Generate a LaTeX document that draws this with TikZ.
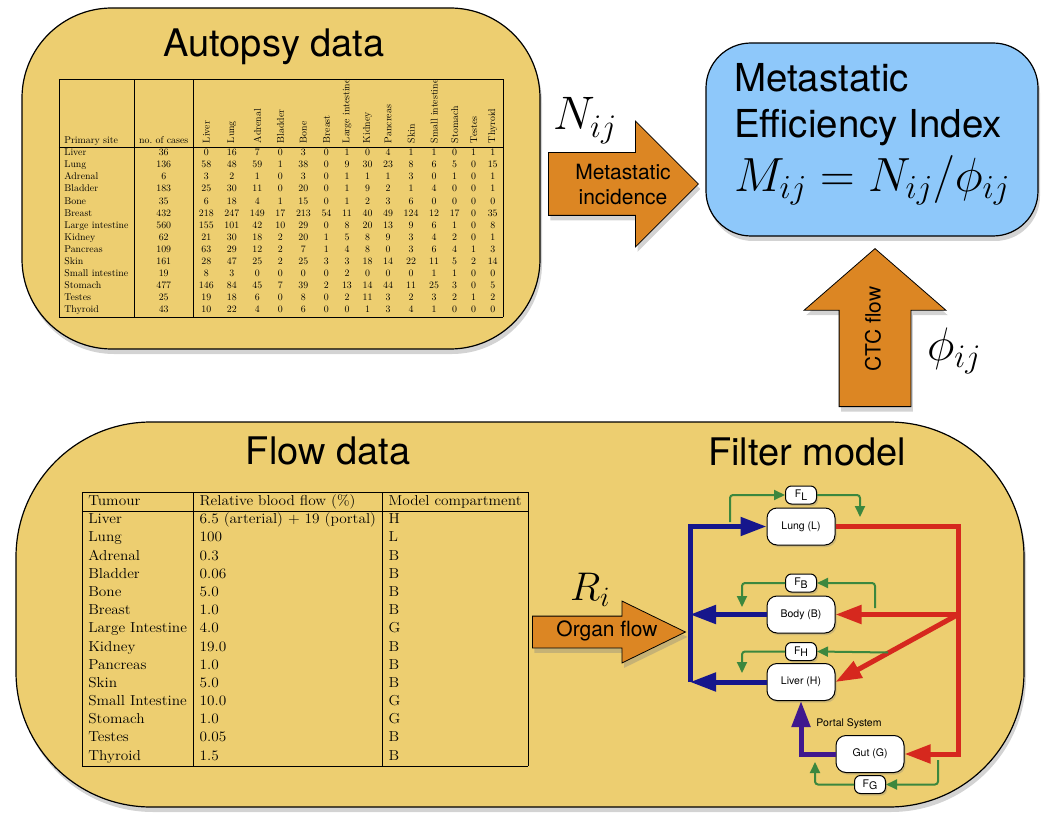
\documentclass[tikz,border=0pt]{standalone}
\usepackage{fix-cm}
\usepackage{fontspec}
\usepackage{graphicx}
\newfontfamily\helv{TeX Gyre Heros}
\usetikzlibrary{shapes,arrows.meta,positioning,shadows}

\definecolor{gold}{RGB}{237,206,112}
\definecolor{sky}{RGB}{142,200,250}
\definecolor{amber}{RGB}{220,134,35}
\definecolor{navy}{RGB}{22,22,140}
\definecolor{indigo}{RGB}{64,24,142}
\definecolor{bloodred}{RGB}{214,40,30}
\definecolor{leaf}{RGB}{60,135,62}

\newcommand{\vcol}[1]{\rotatebox{90}{#1}}
\newcommand{\fsub}[1]{F\raisebox{-.45ex}{#1}}

\begin{document}
\begin{tikzpicture}[%
    x=1pt, y=-1pt,              % measured in points, top down
    >={Triangle[length=26pt,width=18pt]}, % heavy heads for the blood flow
    ]
\useasboundingbox (0,0) rectangle (1050,829);
% -------------------------------------------------
% Box, arrow and line styles
\tikzset{
  shadowed/.style={drop shadow={opacity=.35, shadow xshift=2pt, shadow yshift=-5pt}},
  panel/.style={draw, line width=1.2pt, fill=gold, shadowed},
  title/.style={font=\helv\fontsize{38}{40}\selectfont, anchor=base},
  bigarrow/.style={single arrow, draw, line width=.8pt, fill=amber, shadowed, anchor=tail},
  tag/.style={font=\helv\fontsize{21}{25}\selectfont, align=center, inner sep=0pt},
  big/.style={font=\fontsize{47}{50}\selectfont, inner sep=0pt, anchor=base west},
  organ/.style={draw, fill=white, rounded corners=10pt, line width=1pt,
    minimum width=68pt, minimum height=37pt, inner sep=0pt,
    font=\helv\fontsize{10.5}{12}\selectfont,
    drop shadow={opacity=.3, shadow xshift=1.5pt, shadow yshift=-2pt}},
  fnode/.style={organ, rounded corners=6pt, minimum width=31pt, minimum height=18pt},
  % Connector line styles for the filter model
  blood/.style={->, line width=5pt},
  venous/.style={blood, draw=navy},
  portal/.style={blood, draw=indigo},
  arterial/.style={blood, draw=bloodred},
  filter/.style={-{Triangle[length=11pt,width=10pt]}, draw=leaf, line width=2pt, rounded corners=3pt},
}
% -------------------------------------------------
% The panels
\node [panel, rounded corners=90pt, minimum width=518pt, minimum height=341pt] (aut) at (281,178.5) {};
\node [panel, rounded corners=135pt, minimum width=1008pt, minimum height=385pt] (flw) at (520,614.5) {};
\node [panel, fill=sky, rounded corners=45pt, minimum width=332pt, minimum height=193pt,
  align=left, font=\helv\fontsize{38.5}{46}\selectfont] (mei) at (872,139.5)
  {Metastatic\\Efficiency Index\\[8pt]{\fontsize{48}{50}\selectfont$M_{ij}=N_{ij}/\phi_{ij}$\rule[-25pt]{0pt}{1pt}}};

\node [title] (ta) at (274,57) {Autopsy data};
\node [title] (tf) at (328,464) {Flow data};
\node [title] (tm) at (807,465) {Filter model};

% -------------------------------------------------
% The two tables
\node [inner sep=0pt] (ta1) at (281,198) {\resizebox*{444pt}{238pt}{%
  \fontsize{9.8}{12.1}\selectfont\setlength{\tabcolsep}{5.3pt}%
  \begin{tabular}{|l|c|*{14}{c}|}
  \hline
  Primary site & no.\ of cases & \vcol{Liver} & \vcol{Lung} & \vcol{Adrenal} & \vcol{Bladder} & \vcol{Bone} & \vcol{Breast} & \vcol{Large intestine} & \vcol{Kidney} & \vcol{Pancreas} & \vcol{Skin} & \vcol{Small intestine} & \vcol{Stomach} & \vcol{Testes} & \vcol{Thyroid} \\
  \hline
  Liver & 36 & 0 & 16 & 7 & 0 & 3 & 0 & 1 & 0 & 4 & 1 & 1 & 0 & 1 & 1 \\
  Lung & 136 & 58 & 48 & 59 & 1 & 38 & 0 & 9 & 30 & 23 & 8 & 6 & 5 & 0 & 15 \\
  Adrenal & 6 & 3 & 2 & 1 & 0 & 3 & 0 & 1 & 1 & 1 & 3 & 0 & 1 & 0 & 1 \\
  Bladder & 183 & 25 & 30 & 11 & 0 & 20 & 0 & 1 & 9 & 2 & 1 & 4 & 0 & 0 & 1 \\
  Bone & 35 & 6 & 18 & 4 & 1 & 15 & 0 & 1 & 2 & 3 & 6 & 0 & 0 & 0 & 0 \\
  Breast & 432 & 218 & 247 & 149 & 17 & 213 & 54 & 11 & 40 & 49 & 124 & 12 & 17 & 0 & 35 \\
  Large intestine & 560 & 155 & 101 & 42 & 10 & 29 & 0 & 8 & 20 & 13 & 9 & 6 & 1 & 0 & 8 \\
  Kidney & 62 & 21 & 30 & 18 & 2 & 20 & 1 & 5 & 8 & 9 & 3 & 4 & 2 & 0 & 1 \\
  Pancreas & 109 & 63 & 29 & 12 & 2 & 7 & 1 & 4 & 8 & 0 & 3 & 6 & 4 & 1 & 3 \\
  Skin & 161 & 28 & 47 & 25 & 2 & 25 & 3 & 3 & 18 & 14 & 22 & 11 & 5 & 2 & 14 \\
  Small intestine & 19 & 8 & 3 & 0 & 0 & 0 & 0 & 2 & 0 & 0 & 0 & 1 & 1 & 0 & 0 \\
  Stomach & 477 & 146 & 84 & 45 & 7 & 39 & 2 & 13 & 14 & 44 & 11 & 25 & 3 & 0 & 5 \\
  Testes & 25 & 19 & 18 & 6 & 0 & 8 & 0 & 2 & 11 & 3 & 2 & 3 & 2 & 1 & 2 \\
  Thyroid & 43 & 10 & 22 & 4 & 0 & 6 & 0 & 0 & 1 & 3 & 4 & 1 & 0 & 0 & 0 \\
  \hline
  \end{tabular}}};

\node [inner sep=0pt] (ta2) at (305,629) {\resizebox*{446pt}{274pt}{%
  \fontsize{14.5}{18.3}\selectfont\setlength{\tabcolsep}{6pt}%
  \begin{tabular}{|l|l|l|}
  \hline
  Tumour & Relative blood flow (\%) & Model compartment \\
  \hline
  Liver & 6.5 (arterial) $+$ 19 (portal) & H \\
  Lung & 100 & L \\
  Adrenal & 0.3 & B \\
  Bladder & 0.06 & B \\
  Bone & 5.0 & B \\
  Breast & 1.0 & B \\
  Large Intestine & 4.0 & G \\
  Kidney & 19.0 & B \\
  Pancreas & 1.0 & B \\
  Skin & 5.0 & B \\
  Small Intestine & 10.0 & G \\
  Stomach & 1.0 & G \\
  Testes & 0.05 & B \\
  Thyroid & 1.5 & B \\
  \hline
  \end{tabular}}};

% -------------------------------------------------
% Block arrows between the panels
\node [bigarrow, inner sep=31pt, single arrow head extend=31.5pt, minimum height=150pt] (inc) at (548,184) {};
\node [tag] (inct) at (623,185) {Metastatic\\incidence};
\node [big] (nij) at (553,130) {$N_{ij}$};

\node [bigarrow, shape border rotate=90, inner sep=35.5pt, single arrow head extend=35pt,
  single arrow tip angle=98, minimum height=158pt] (ctc) at (875,407) {};
\node [tag, rotate=90] (ctct) at (873,329) {CTC flow};
\node [big] (phi) at (927,360) {$\phi_{ij}$};

\node [bigarrow, inner sep=15.5pt, single arrow head extend=15pt, single arrow tip angle=52,
  minimum height=153pt] (orf) at (532,632) {};
\node [tag] (orft) at (607,631) {Organ flow};
\node [big, font=\fontsize{40}{44}\selectfont] (ri) at (570,600) {$R_i$};

% -------------------------------------------------
% Filter model: compartments and filters
\node [organ] (lung) at (801,526.5) {Lung (L)};
\node [organ] (body) at (801,614.5) {Body (B)};
\node [organ] (liver) at (801,682) {Liver (H)};
\node [organ] (gut) at (870,754) {Gut (G)};
\node [fnode, above=3pt of lung] (fl) {\fsub{L}};
\node [fnode, above=3pt of body] (fb) {\fsub{B}};
\node [fnode, above=2pt of liver] (fh) {\fsub{H}};
\node [fnode, below=2pt of gut] (fg) {\fsub{G}};
\node [font=\helv\fontsize{10.5}{12}\selectfont] (ps) at (849,724) {Portal System};

\coordinate (vt) at (690,682);   % foot of the venous trunk
\coordinate (ra) at (958,614.5); % arterial branch
\coordinate (rb) at (958,754);   % arterial corner at the gut

\draw [venous] (vt) |- (lung.west);
\draw [venous] (body.west) -- (body.west -| vt);
\draw [venous] (liver.west) -- (vt);
\draw [portal] (gut.west) -| (liver.south);
\draw [arterial] (lung.east) -| (rb) -- (gut.east);
\draw [arterial] (ra) -- (body.east);
\draw [arterial] (ra) -- (liver.east);

% filter loops
\coordinate (l1) at (730,522); \coordinate (l2) at (860,517);
\coordinate (b1) at (875,608); \coordinate (b2) at (742,607);
\coordinate (h1) at (888,652.5); \coordinate (h2) at (742,673);
\coordinate (g1) at (938,760); \coordinate (g2) at (815,762);
\draw [filter] (l1) |- (fl.west);
\draw [filter] (fl.east) -| (l2);
\draw [filter] (b1) |- (fb.east);
\draw [filter] (fb.west) -| (b2);
\draw [filter] (h1) -- (fh.east);
\draw [filter] (fh.west) -| (h2);
\draw [filter] (g1) |- (fg.east);
\draw [filter] (fg.west) -| (g2);
% -------------------------------------------------
\end{tikzpicture}
\end{document}
